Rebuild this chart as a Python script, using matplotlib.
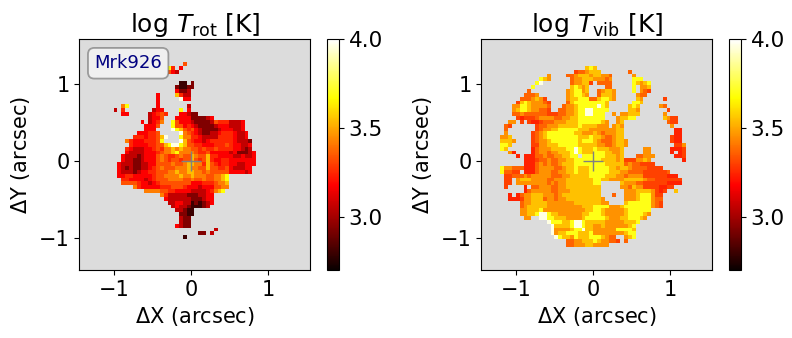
import numpy as np
import matplotlib
matplotlib.use("Agg")
import matplotlib.pyplot as plt

# colour levels of the maps, log T
rot_levels = [2.8, 2.93, 3.06, 3.17, 3.25, 3.33, 3.42, 3.54, 3.68, 3.96]
vib_levels = [2.8, 2.92, 3.03, 3.24, 3.3, 3.37, 3.46, 3.55, 3.7, 3.96]

ticks = [-1, 0, 1]
cbar_ticks = [3.0, 3.5, 4.0]
cbar_labels = ["3.0", "3.5", "4.0"]
titles = [r"log $T_{\rm rot}$ [K]", r"log $T_{\rm vib}$ [K]"]
galaxy = "Mrk926"

# one string per row of spaxels from the top, groups of ten columns, . = no data
rot_rows = [
    "", "", "", "", "", "",
    ".......... .......... .......5..",
    ".......... .......... ...84.3...",
    ".......... .......... ...532....",
    "",
    "",
    ".......... .......... ......00.1",
    ".......... .......... .....10011",
    ".......... .......... .....3112.",
    ".......... .......... 3....7422.",
    ".......... .......... 3.....933.",
    ".......... .......... 3.........",
    ".......... .68....... 3.......2.",
    ".........2 .4.......2 33....8.3.",
    ".......... .33.....23 454...3321 1.........",
    ".......... ........23 35...33331 11123.....",
    ".......... ......3.23 46..853332 1111254442 223",
    ".......... .......333 5...855343 2111123332 223",
    ".......... .......333 ....987545 3211112333 223",
    ".......... .....33344 5.....9654 3211223444 3223",
    ".......... ....444344 579...8664 4322224444 3223",
    ".......... ..64333444 58....9754 3323444444 32221",
    ".......... ...4333344 5578998755 4433344454 33223",
    ".......... ..43222334 5466767665 5454454444 33212",
    ".......... ..32222333 4566786666 5445333332 311123",
    ".......... .322212333 5654456557 6557443333 223223",
    ".......... .322112333 5654554557 5457433443 333333",
    ".......... 3222112233 5555655677 6647543443 322333",
    ".......... 3212112234 5655566676 6557554453 22233",
    ".......... 3222123344 5556676677 6656555553 33323",
    ".......... 3344333334 5566667667 666556678.",
    ".......... .443333234 5556666556 556556678.",
    ".......... .555543323 4555555553 334445667.",
    ".......... ....643333 3444555433 323335566.",
    ".......... .......666 6554433332 22234678..",
    ".......... .......... .642222211 12233.....",
    ".......... .......... ..32222221 11233.....",
    ".......... .......... ...2233220 10123.....",
    ".......... .......... ....232210 0012......",
    ".......... .......... .....22100",
    ".......... .......... ......1100",
    ".......... .......... ......211.",
    ".......... .......... ......211.",
    ".......... .......... .....3211.",
    ".......... .......... .......... .....2....",
    ".......... .......... .......... .11.2.....",
    ".......... .......... .......0..",
]

vib_rows = [
    "", "", "", "", "", "", "",
    ".......... .......... .......787",
    ".......... .......... ....455677 7.......5.",
    ".......... .......6.. ..55677767 7665.....6",
    ".......... .....876.. ...5667776 6656.....8 88",
    ".......... ....89.... ...566774. 5555.....8 7678",
    ".......... ...8...... ...78767.. ..55.....8 .667",
    ".......... ..5....... ..678867.. 56776....8 .654",
    ".......... .5556..... ..678876.. 57776..... 655",
    ".......... 5556764... ..67788855 78876..... 76.....4..",
    ".........4 78766654.. ..57888888 887......8 87",
    "........66 88766665.. .566788888 987.....78 7.....65..",
    "........67 88766554.. 5566788998 888.....77 6.......4.",
    "........55 6555555444 5566788998 88..6.6677 7......6..",
    ".........4 3444566665 5667788888 88...67788 .......764 4",
    ".......66. 4.43345556 6677788888 876..67... ........54 4",
    "......54.. ....455666 7777787777 666.676... .........6",
    "......5... ....456677 8888877766 6666677... .......... 33",
    "......6... ...4567888 8888776667 6566677... .......... 33",
    ".....667.. ...4567888 8888877787 7655677... .........4 33",
    ".....7776. ...4566788 8888878887 65556776.. .........4 33",
    ".....887.. ...4466777 8888877777 66556776.. .......... 446",
    ".....87... ...3566677 7788987778 7776667... ..66.....3 334",
    ".......63. ...3566566 7778987778 8877667... ..66.....3 .34",
    ".........3 .333556556 67788.8888 8877767... 55666..... 334",
    ".......... .333455655 6677888888 8777767444 6676...... ..3",
    ".......... .333565655 6777888888 8877777565 54444",
    ".....86655 5333566665 5677877788 8887767765 5554444...",
    ".....85544 .333566655 6677877788 8887776655 554444445.",
    "......4455 5656666655 5667777788 8877766566 6644444433 3",
    "......44.6 7776666556 6677777778 8776666777 7765544444 44",
    "......44.6 6666666565 6677777778 8.....7666 5544444433 33",
    "......4... .3.5566655 6677777777 7.....6657 6644443344",
    ".......... .356666655 6667777777 7......666 77776434.. 7",
    ".......3.3 5667776665 6777777777 7...5..666 7888644...",
    ".......333 4667775665 6677777777 76.....666 7888655...",
    ".......... 5667777666 6666777777 766....788 8888654...",
    ".......... 5677777666 6666667778 8886667888 8888654...",
    ".......... 6677786666 6666666778 8766666788 8888",
    ".......... 6677899877 6666667788 8766666788 8876",
    ".......... .66..99887 7766667888 8876667788 876",
    ".......... .......988 8778998777 7766666777 8",
    ".......... ........97 7778998776 6766666678",
    ".......... ........96 6667889776 6666688887",
    ".......... ........96 7788877786 6666666788",
    ".......... .........9 8776877788 87655..678",
    ".......... .......... ..55667778 766554.5..",
    ".......... .......... ..55666776 666",
]


def to_map(rows, levels):
    grid = np.full((60, 60), np.nan)
    for j, row in enumerate(rows):
        row = row.replace(" ", "")
        for i, c in enumerate(row):
            if c != ".":
                grid[j, i] = levels[int(c)]
    return grid


cmap = plt.get_cmap("hot").copy()
cmap.set_bad("gainsboro")

W, H = 792, 338
fig = plt.figure(figsize=(W / 100, H / 100), dpi=100)

lefts = [79.3, 481.3]
maps = [(rot_rows, rot_levels), (vib_rows, vib_levels)]
for n, (rows, levels) in enumerate(maps):
    ax = fig.add_axes([lefts[n] / W, 1 - 270 / H, 231 / W, 231 / H])
    im = ax.imshow(to_map(rows, levels), cmap=cmap, vmin=2.7, vmax=4.0, origin="upper",
                   extent=[-1.45, 1.55, -1.41, 1.59], interpolation="nearest", aspect="equal")
    ax.plot(0, 0, "+", color="gray", ms=15, mew=1.0)
    ax.set_xticks(ticks)
    ax.set_yticks(ticks)
    ax.tick_params(labelsize=15)
    ax.set_xlabel(r"$\Delta$X (arcsec)", fontsize=15)
    ax.set_ylabel(r"$\Delta$Y (arcsec)", fontsize=15, labelpad=5)
    ax.set_title(titles[n], fontsize=18, pad=5)

    cax = fig.add_axes([(lefts[n] + 248) / W, 1 - 270 / H, 11.5 / W, 231 / H])
    cb = fig.colorbar(im, cax=cax)
    cb.set_ticks(cbar_ticks)
    cb.set_ticklabels(cbar_labels)
    cb.ax.tick_params(labelsize=15.5)

    if n == 0:
        ax.text(0.065, 0.895, galaxy, transform=ax.transAxes, fontsize=13, color="navy",
                va="center", ha="left",
                bbox=dict(boxstyle="round,pad=0.35", fc="white", ec="dimgray", alpha=0.6, lw=1.3))

fig.savefig("out.png", dpi=100)
